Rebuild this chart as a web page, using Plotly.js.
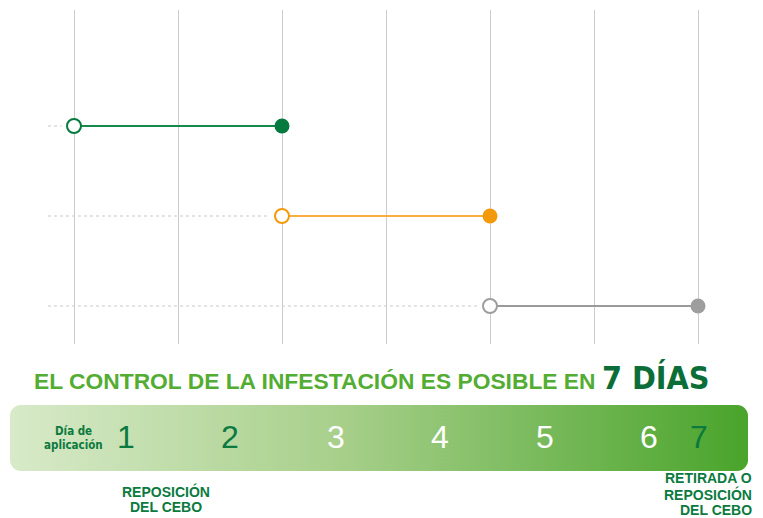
<!DOCTYPE html>
<html>
<head>
<meta charset="utf-8">
<script src="https://cdn.plot.ly/plotly-3.0.1.min.js"></script>
<style>html,body{margin:0;padding:0;background:#fff;}#chart{width:763px;height:518px;}</style>
</head>
<body>
<div id="chart"></div>
<script>
// ---- data ----
const rowNames = ['Aplicación', 'Reposición', 'Retirada'];
const rowLevel = [3, 2, 1];
const startDay = [1, 3, 5];
const endDay = [3, 5, 7];
const dayLabels = ['1', '2', '3', '4', '5', '6', '7'];
const titleMain = 'EL CONTROL DE LA INFESTACIÓN ES POSIBLE EN';
const titleEmph = '7 DÍAS';
const startNote = ['Día de', 'aplicación'];
const midNote = ['REPOSICIÓN', 'DEL CEBO'];
const endNote = ['RETIRADA O', 'REPOSICIÓN', 'DEL CEBO'];

// ---- styles ----
const markerColors = ['#047a3e', '#f39a0b', '#9e9e9e'];
const lineColors = ['#168a4c', '#f7b040', '#9a9a9a'];
const dayLabelColors = ['#0b7a3e', '#0b7a3e', '#ffffff', '#ffffff', '#ffffff', '#ffffff', '#0b7a3e'];
const dayLabelPx = [126, 230, 336, 440, 545, 649, 699];
const W = 763, H = 518;
const PX = px => px / W;
const PY = py => 1 - py / H;
const darkGreen = '#0b7a3e';
const cond = '"DejaVu Sans Condensed", "Liberation Sans Narrow", sans-serif';
const sans = '"Liberation Sans", Arial, Helvetica, sans-serif';

const traces = [];
rowLevel.forEach((lvl, i) => {
  traces.push({
    x: [0.75, startDay[i] - 0.12], y: [lvl, lvl], mode: 'lines', opacity: 1,
    line: {color: '#c9c9c9', width: 1, dash: 'dot'}, hoverinfo: 'skip'
  });
  traces.push({
    x: [startDay[i], endDay[i]], y: [lvl, lvl], mode: 'lines', opacity: 1,
    line: {color: lineColors[i], width: 2}, name: rowNames[i]
  });
  traces.push({
    x: [startDay[i]], y: [lvl], mode: 'markers', name: rowNames[i], opacity: 1,
    marker: {size: 14, color: '#ffffff', opacity: 1, line: {color: markerColors[i], width: 2}}
  });
  traces.push({
    x: [endDay[i]], y: [lvl], mode: 'markers', name: rowNames[i], opacity: 1,
    marker: {size: 15, color: markerColors[i], opacity: 1, line: {color: markerColors[i], width: 0}}
  });
});

const annotations = [];
annotations.push({
  xref: 'paper', yref: 'paper', x: PX(32), y: PY(378), xanchor: 'left', yanchor: 'middle',
  showarrow: false,
  text: '<b>' + titleMain + ' </b><span style="font-size:32px;color:#0b6e38;font-family:' + cond.replace(/"/g, "'") + '"><b>' + titleEmph + '</b></span>',
  font: {family: sans, size: 22.8, color: '#52ad32'}
});
dayLabels.forEach((d, i) => {
  annotations.push({
    xref: 'paper', yref: 'paper', x: PX(dayLabelPx[i]), y: PY(437), xanchor: 'center', yanchor: 'middle',
    showarrow: false, text: d, font: {family: sans, size: 32, color: dayLabelColors[i]}
  });
});
startNote.forEach((t, i) => {
  annotations.push({
    xref: 'paper', yref: 'paper', x: PX(73), y: PY(431 + i * 14), xanchor: 'center', yanchor: 'middle',
    showarrow: false, text: '<b>' + t + '</b>', font: {family: cond, size: 11.5, color: darkGreen}
  });
});
midNote.forEach((t, i) => {
  annotations.push({
    xref: 'paper', yref: 'paper', x: PX(166), y: PY(491 + i * 16), xanchor: 'center', yanchor: 'middle',
    showarrow: false, text: '<b>' + t + '</b>', font: {family: sans, size: 14, color: darkGreen}
  });
});
endNote.forEach((t, i) => {
  annotations.push({
    xref: 'paper', yref: 'paper', x: PX(754), y: PY(478 + i * 16), xanchor: 'right', yanchor: 'middle',
    showarrow: false, text: '<b>' + t + '</b>', font: {family: sans, size: 14, color: darkGreen}
  });
});

const barSvg = '<svg xmlns="http://www.w3.org/2000/svg" width="738" height="66" viewBox="0 0 738 66">' +
  '<defs><linearGradient id="g" x1="0" y1="0" x2="1" y2="0">' +
  '<stop offset="0" stop-color="#d8eac9"/><stop offset="0.45" stop-color="#a7cf8a"/><stop offset="1" stop-color="#49a42b"/>' +
  '</linearGradient></defs><rect x="0" y="0" width="738" height="66" rx="11" ry="11" fill="url(#g)"/></svg>';

const layout = {
  width: W, height: H,
  margin: {l: 0, r: 0, t: 0, b: 0},
  paper_bgcolor: '#ffffff', plot_bgcolor: '#ffffff',
  showlegend: false, hovermode: false,
  xaxis: {
    range: [1 - 74 / 104, 1 + 689 / 104], tick0: 1, dtick: 1, showgrid: true,
    gridcolor: '#cccccc', gridwidth: 1, zeroline: false, showticklabels: false,
    showline: false, ticks: '', fixedrange: true
  },
  yaxis: {
    domain: [PY(344), PY(10)],
    range: [1 - 38 / 90, 3 + 116 / 90], showgrid: false, zeroline: false, showticklabels: false,
    showline: false, ticks: '', fixedrange: true
  },
  images: [{
    source: 'data:image/svg+xml;charset=utf-8,' + encodeURIComponent(barSvg),
    xref: 'paper', yref: 'paper', x: PX(10), y: PY(405), sizex: 738 / W, sizey: 66 / H,
    xanchor: 'left', yanchor: 'top', sizing: 'stretch', layer: 'below'
  }],
  annotations: annotations
};

Plotly.newPlot('chart', traces, layout, {displayModeBar: false, staticPlot: true});
</script>
</body>
</html>
